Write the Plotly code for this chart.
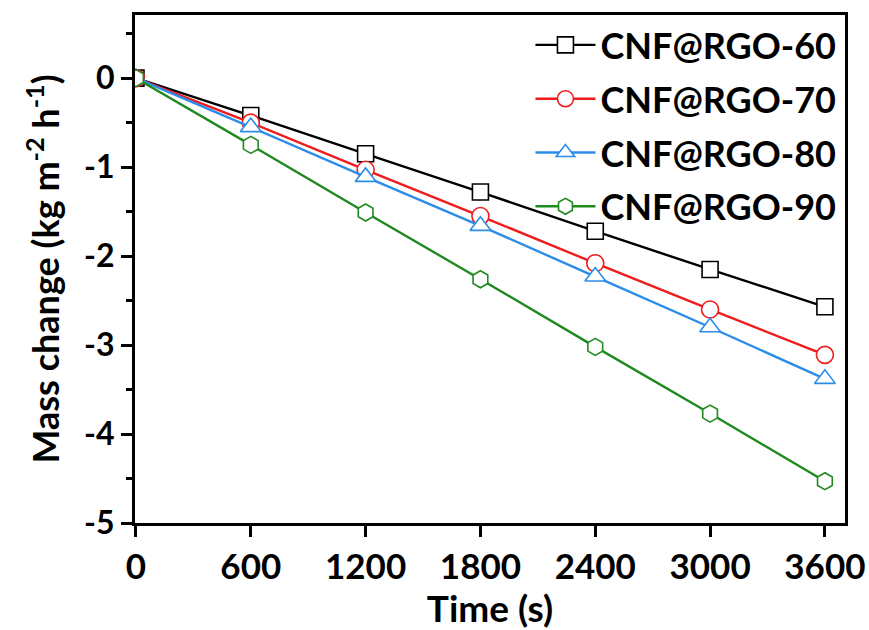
import plotly.graph_objects as go

time_s = [0, 600, 1200, 1800, 2400, 3000, 3600]
names = ["CNF@RGO-60", "CNF@RGO-70", "CNF@RGO-80", "CNF@RGO-90"]
rgo60 = [0, -0.42, -0.85, -1.28, -1.72, -2.15, -2.57]
rgo70 = [0, -0.50, -1.03, -1.55, -2.08, -2.60, -3.11]
rgo80 = [0, -0.55, -1.11, -1.66, -2.23, -2.80, -3.38]
rgo90 = [0, -0.75, -1.51, -2.26, -3.02, -3.77, -4.53]
x_ticks = [0, 600, 1200, 1800, 2400, 3000, 3600]
y_ticks = [0, -1, -2, -3, -4, -5]

series = [rgo60, rgo70, rgo80, rgo90]
colors = ["#000000", "#ee1c1c", "#2b8de8", "#1f8a1f"]
symbols = ["square", "circle", "triangle-up", "hexagon"]
sizes = [16, 17, 18, 17]

FONT = "Lato"
fig = go.Figure()
for i, (nm, ys) in enumerate(zip(names, series)):
    fig.add_trace(go.Scatter(
        x=time_s, y=ys, name=nm, mode="lines+markers",
        legendgroup=nm,
        line=dict(color=colors[i], width=2.4),
        marker=dict(symbol=symbols[i], size=sizes[i],
                    color="white", line=dict(color=colors[i], width=1.6)),
    ))

axis_common = dict(
    showline=True, linewidth=3, linecolor="black", mirror=True,
    ticks="outside", ticklen=11, tickwidth=3, tickcolor="black",
    showgrid=False, zeroline=False, automargin=False,
    ticklabeloverflow="allow",
)
fig.update_xaxes(
    **axis_common, range=[-5, 3705], tickvals=x_ticks,
    tickfont=dict(family=FONT, size=35, color="black", weight="bold"),
    title=dict(text="Time (s)", font=dict(family=FONT, size=37, color="black", weight="bold"), standoff=4),
)
fig.update_yaxes(
    **axis_common, range=[-5, 0.71], tickvals=y_ticks,
    ticktext=[str(v) for v in y_ticks],
    minor=dict(ticks="outside", ticklen=6, tickwidth=3, tickcolor="black", dtick=0.5, showgrid=False),
    tickfont=dict(family=FONT, size=32, color="black", weight="bold"),
    title=dict(text="Mass change (kg m<sup>-2</sup> h<sup>-1</sup>)",
               font=dict(family=FONT, size=36, color="black", weight="bold"), standoff=14),
)
fig.update_layout(
    width=869, height=630,
    margin=dict(l=135, r=24, t=15, b=107),
    paper_bgcolor="white", plot_bgcolor="white",
    showlegend=True,
    legend=dict(x=0.995, y=1.0, xanchor="right", yanchor="top",
                bgcolor="rgba(0,0,0,0)", borderwidth=0,
                font=dict(family=FONT, size=36, color="black", weight="bold"),
                tracegroupgap=4, itemwidth=60),
)
fig.write_html("out.html", config={"displayModeBar": False},
               post_script="document.body.style.margin='0px';")
